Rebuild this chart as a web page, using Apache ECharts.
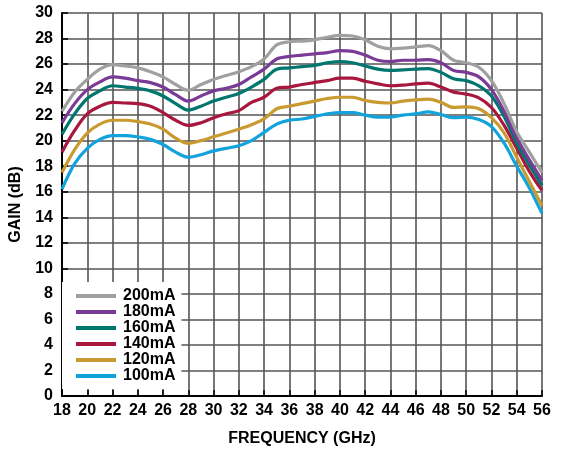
<!DOCTYPE html>
<html>
<head>
<meta charset="utf-8">
<script src="https://cdn.jsdelivr.net/npm/echarts@6/dist/echarts.min.js"></script>
<style>
html,body{margin:0;padding:0;background:#fff;}
#chart{width:561px;height:454px;}
</style>
</head>
<body>
<div id="chart"></div>
<script>
const freq = [18,19,20,21,22,23,24,25,26,27,28,29,30,31,32,33,34,35,36,37,38,39,40,41,42,43,44,45,46,47,48,49,50,51,52,53,54,55,56];
const names = ['200mA','180mA','160mA','140mA','120mA','100mA'];
const colors = ['#a0a0a0','#7a3b96','#00766f','#a8173d','#c99a30','#12a3dc'];
const g200 = [22.3,23.8,24.8,25.6,25.95,25.85,25.7,25.4,25.0,24.4,23.95,24.4,24.8,25.1,25.4,25.8,26.4,27.5,27.75,27.8,27.9,28.1,28.25,28.2,27.9,27.4,27.2,27.25,27.35,27.45,27.05,26.3,26.1,25.75,24.7,22.9,20.7,19.1,17.5];
const g180 = [21.4,22.9,24.0,24.6,25.0,24.9,24.7,24.55,24.2,23.6,23.1,23.5,23.9,24.1,24.4,25.0,25.6,26.4,26.6,26.7,26.8,26.9,27.05,27.0,26.7,26.3,26.2,26.3,26.3,26.35,26.1,25.5,25.35,25.0,24.0,22.3,20.2,18.5,16.9];
const g160 = [20.5,22.1,23.3,23.9,24.3,24.2,24.1,23.9,23.5,22.9,22.4,22.7,23.1,23.4,23.7,24.2,24.8,25.6,25.7,25.8,25.9,26.1,26.2,26.1,25.85,25.6,25.5,25.55,25.6,25.65,25.35,24.85,24.7,24.3,23.5,21.9,19.8,18.1,16.5];
const g140 = [19.1,20.8,22.1,22.7,23.0,22.95,22.9,22.7,22.2,21.6,21.2,21.4,21.8,22.1,22.35,23.0,23.4,24.1,24.2,24.4,24.55,24.7,24.9,24.9,24.65,24.45,24.3,24.35,24.45,24.5,24.2,23.8,23.65,23.35,22.6,21.2,19.4,17.6,16.1];
const g120 = [17.5,19.3,20.6,21.3,21.6,21.6,21.5,21.3,20.9,20.2,19.8,20.0,20.3,20.6,20.9,21.25,21.7,22.5,22.7,22.9,23.1,23.3,23.4,23.4,23.15,23.0,22.95,23.1,23.2,23.25,23.0,22.6,22.65,22.5,21.8,20.6,18.7,16.8,14.9];
const g100 = [16.2,18.2,19.4,20.1,20.4,20.4,20.3,20.1,19.7,19.1,18.7,18.9,19.2,19.4,19.6,20.0,20.65,21.3,21.6,21.7,21.9,22.1,22.2,22.2,22.0,21.85,21.85,22.0,22.1,22.25,22.05,21.8,21.85,21.65,21.1,19.8,18.0,16.3,14.3];
const seriesData = [g200,g180,g160,g140,g120,g100];

const chart = echarts.init(document.getElementById('chart'), null, {renderer:'canvas'});
const font = 'Liberation Sans, Arial, sans-serif';
const splitStyle = {show:true, lineStyle:{color:'#555', width:1.6}};
chart.setOption({
  animation:false,
  backgroundColor:'#fff',
  color: colors,
  grid:{left:61, right:19, top:13, bottom:58, containLabel:false},
  xAxis:{
    type:'value', min:18, max:56, interval:2,
    name:'FREQUENCY (GHz)', nameLocation:'middle', nameGap:35,
    nameTextStyle:{fontFamily:font, fontWeight:'bold', fontSize:16, color:'#000'},
    axisLine:{show:true, onZero:false, lineStyle:{color:'#000', width:2}},
    axisTick:{show:true, inside:true, length:6, lineStyle:{color:'#000', width:1.5}},
    axisLabel:{fontFamily:font, fontWeight:'bold', fontSize:16, color:'#000', margin:7},
    splitLine:splitStyle
  },
  yAxis:{
    type:'value', min:0, max:30, interval:2,
    name:'GAIN (dB)', nameLocation:'middle', nameGap:38,
    nameTextStyle:{fontFamily:font, fontWeight:'bold', fontSize:16, color:'#000'},
    axisLine:{show:true, onZero:false, lineStyle:{color:'#000', width:2}},
    axisTick:{show:true, inside:true, length:6, lineStyle:{color:'#000', width:1.5}},
    axisLabel:{fontFamily:font, fontWeight:'bold', fontSize:16, color:'#000', margin:9},
    splitLine:splitStyle
  },
  legend:{
    orient:'vertical', left:62, top:282,
    backgroundColor:'#fff',
    padding:[6,6,5,14],
    itemGap:0, itemWidth:40, itemHeight:4,
    icon:'rect',
    textStyle:{fontFamily:font, fontWeight:'bold', fontSize:16, color:'#000', lineHeight:16, padding:[0,0,0,2]},
    data:names
  },
  series: names.map((n,i)=>({
    name:n, type:'line', showSymbol:false, smooth:0.35,
    lineStyle:{width:3.2, color:colors[i]},
    itemStyle:{color:colors[i]},
    z: 3 + (5-i),
    data: freq.map((f,j)=>[f, seriesData[i][j]])
  }))
});
</script>
</body>
</html>
